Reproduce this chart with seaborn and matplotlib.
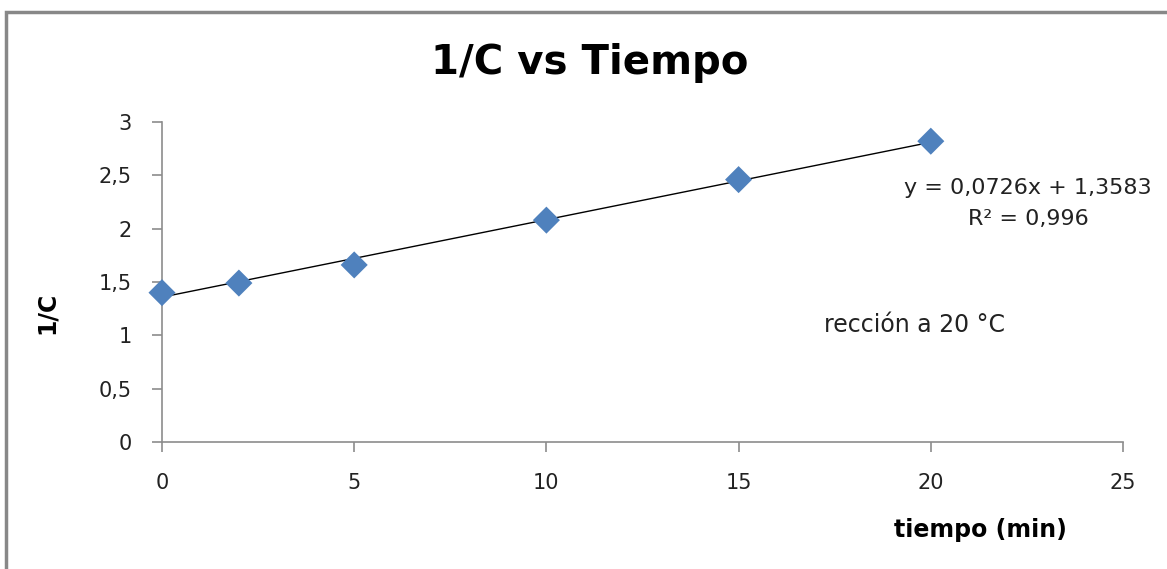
import numpy as np
import pandas as pd
import matplotlib
matplotlib.use("Agg")
import matplotlib.pyplot as plt
import seaborn as sns
from matplotlib.patches import Rectangle

# Measured data: time (min) vs inverse concentration
tiempo = [0, 2, 5, 10, 15, 20]
inv_c = [1.40, 1.49, 1.66, 2.08, 2.46, 2.82]

# Linear trend reported for the series
slope = 0.0726
intercept = 1.3583
r2 = 0.996

x_ticks = [0, 5, 10, 15, 20, 25]
y_ticks = [0, 0.5, 1, 1.5, 2, 2.5, 3]

sns.set_theme(style="white")
plt.rcParams["font.family"] = ["DejaVu Sans"]

fig = plt.figure(figsize=(11.67, 5.69), dpi=100)
ax = fig.add_axes([162 / 1167, 1 - 442 / 569, (1123 - 162) / 1167, (442 - 122) / 569])

df = pd.DataFrame({"tiempo": tiempo, "inv_c": inv_c})
trend_x = np.array([min(tiempo), max(tiempo)])
trend = pd.DataFrame({"tiempo": trend_x, "inv_c": slope * trend_x + intercept})

sns.lineplot(data=trend, x="tiempo", y="inv_c", ax=ax, color="black", linewidth=1.0, zorder=2)
sns.scatterplot(data=df, x="tiempo", y="inv_c", ax=ax, marker="D", s=190,
                color="#4F81BD", edgecolor="none", zorder=3, clip_on=False)

ax.set_xlim(0, 25)
ax.set_ylim(0, 3)
ax.set_xticks(x_ticks)
ax.set_yticks(y_ticks)
ax.set_xticklabels([str(v) for v in x_ticks])
ax.set_yticklabels([f"{v:g}".replace(".", ",") for v in y_ticks])

for side in ("top", "right"):
    ax.spines[side].set_visible(False)
for side in ("left", "bottom"):
    ax.spines[side].set_color("#8c8c8c")
    ax.spines[side].set_linewidth(1.2)

ax.tick_params(axis="both", which="major", direction="out", length=7, width=1.2,
               color="#8c8c8c", labelsize=15, labelcolor="#222222",
               bottom=True, left=True)
ax.tick_params(axis="x", pad=15)
ax.tick_params(axis="y", pad=15)
ax.set_xlabel("")
ax.set_ylabel("")

# Titles and annotations
fig.text(590 / 1167, 1 - 63 / 569, "1/C vs Tiempo", ha="center", va="center",
         fontsize=29, fontweight="bold", color="black")
fig.text(47 / 1167, 1 - 313 / 569, "1/C", ha="center", va="center", rotation=90,
         fontsize=17, fontweight="bold", color="black")
fig.text(980 / 1167, 1 - 530 / 569, "tiempo (min)", ha="center", va="center",
         fontsize=17, fontweight="bold", color="black")

eq = f"y = {slope:.4f}x + {intercept:.4f}".replace(".", ",")
fig.text(1028 / 1167, 1 - 188 / 569, eq, ha="center", va="center",
         fontsize=16, color="#222222")
fig.text(1028 / 1167, 1 - 219 / 569, f"R² = {r2:.3f}".replace(".", ","), ha="center", va="center",
         fontsize=16, color="#222222")
fig.text(914 / 1167, 1 - 325 / 569, "rección a 20 °C", ha="center", va="center",
         fontsize=17, color="#222222")

# Chart-area frame
fig.patches.append(Rectangle((6 / 1167, -0.05), 1.2, 1 - 12 / 569 + 0.05, transform=fig.transFigure,
                             fill=False, edgecolor="#888888", linewidth=2.5, zorder=0))

fig.savefig("out.png", dpi=100)
